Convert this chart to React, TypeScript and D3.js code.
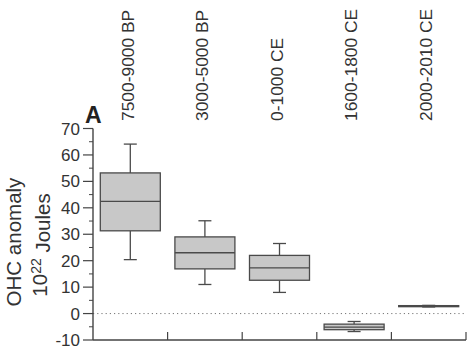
import * as d3 from "d3"

// periods on the x axis
const periods = ["7500-9000 BP", "3000-5000 BP", "0-1000 CE", "1600-1800 CE", "2000-2010 CE"]
// box statistics (10^22 J)
const whiskerLow = [20.4, 11.0, 8.0, -6.8, 2.5]
const q1 = [31.3, 16.9, 12.6, -6.1, 2.6]
const median = [42.4, 23.0, 17.3, -5.1, 2.8]
const q3 = [53.2, 29.0, 22.0, -4.0, 3.0]
const whiskerHigh = [64.1, 35.1, 26.5, -3.0, 3.1]
const yTicks = [-10, 0, 10, 20, 30, 40, 50, 60, 70]
const yMinorTicks = [-5, 5, 15, 25, 35, 45, 55, 65]

const W = 475
const H = 352
const left = 93
const right = 466
const top = 128.5
const bottom = 340

const font = "'Liberation Sans', Arial, Helvetica, sans-serif"
const ink = "#333"

export default function App() {
  const x = d3.scaleBand<string>().domain(periods).range([left, right]).paddingInner(0).paddingOuter(0)
  const y = d3.scaleLinear().domain([-10, 70]).range([bottom, top])
  const boxW = 60
  const capW = 13

  return (
    <svg width={W} height={H} style={{ position: "absolute", left: 0, top: 0, background: "#fff" }}>
      {/* dotted zero line */}
      <line x1={left} x2={right} y1={y(0)} y2={y(0)} stroke="#777" strokeWidth={1} strokeDasharray="1.2,3" />

      {/* boxes */}
      {periods.map((p, i) => {
        const cx = (x(p) ?? 0) + x.bandwidth() / 2
        const bx = cx - boxW / 2
        return (
          <g key={p} stroke="#4a4a4a" strokeWidth={1.3} fill="none">
            <line x1={cx} x2={cx} y1={y(whiskerHigh[i])} y2={y(q3[i])} />
            <line x1={cx} x2={cx} y1={y(q1[i])} y2={y(whiskerLow[i])} />
            <line x1={cx - capW / 2} x2={cx + capW / 2} y1={y(whiskerHigh[i])} y2={y(whiskerHigh[i])} />
            <line x1={cx - capW / 2} x2={cx + capW / 2} y1={y(whiskerLow[i])} y2={y(whiskerLow[i])} />
            <rect x={bx} y={y(q3[i])} width={boxW} height={y(q1[i]) - y(q3[i])} fill="#c8c8c8" />
            <line x1={bx} x2={bx + boxW} y1={y(median[i])} y2={y(median[i])} />
          </g>
        )
      })}

      {/* y axis */}
      <line x1={left} x2={left} y1={top} y2={bottom} stroke="#444" strokeWidth={1.4} />
      {yTicks.map(t => (
        <g key={t}>
          <line x1={left - 10} x2={left} y1={y(t)} y2={y(t)} stroke="#444" strokeWidth={1.2} />
          <text x={left - 13} y={y(t)} dy="0.36em" textAnchor="end" fontFamily={font} fontSize={17} fill={ink}>
            {t}
          </text>
        </g>
      ))}
      {yMinorTicks.map(t => (
        <line key={t} x1={left - 4} x2={left} y1={y(t)} y2={y(t)} stroke="#444" strokeWidth={1} />
      ))}

      {/* x axis */}
      <line x1={left} x2={right} y1={bottom} y2={bottom} stroke="#444" strokeWidth={1.4} />
      {periods.map(p => (
        <line key={p} x1={(x(p) ?? 0) + x.bandwidth()} x2={(x(p) ?? 0) + x.bandwidth()} y1={bottom} y2={bottom - 8} stroke="#444" strokeWidth={1.2} />
      ))}

      {/* category labels on top */}
      {periods.map(p => {
        const cx = (x(p) ?? 0) + x.bandwidth() / 2 - 3
        return (
          <text
            key={p}
            transform={`translate(${cx},121) rotate(-90)`}
            dy="0.36em"
            fontFamily={font}
            fontSize={17.4}
            fill={ink}
          >
            {p}
          </text>
        )
      })}

      {/* panel letter */}
      <text x={85} y={123} fontFamily={font} fontSize={23} fontWeight="bold" fill="#222">
        A
      </text>

      {/* y axis title */}
      <text transform="translate(14,242) rotate(-90)" dy="0.36em" textAnchor="middle" fontFamily={font} fontSize={20.5} fill={ink}>
        OHC anomaly
      </text>
      <text transform="translate(40,245) rotate(-90)" dy="0.36em" textAnchor="middle" fontFamily={font} fontSize={20.5} fill={ink}>
        10
        <tspan dy="-0.45em" fontSize={14}>22</tspan>
        <tspan dy="0.45em"> Joules</tspan>
      </text>
    </svg>
  )
}
